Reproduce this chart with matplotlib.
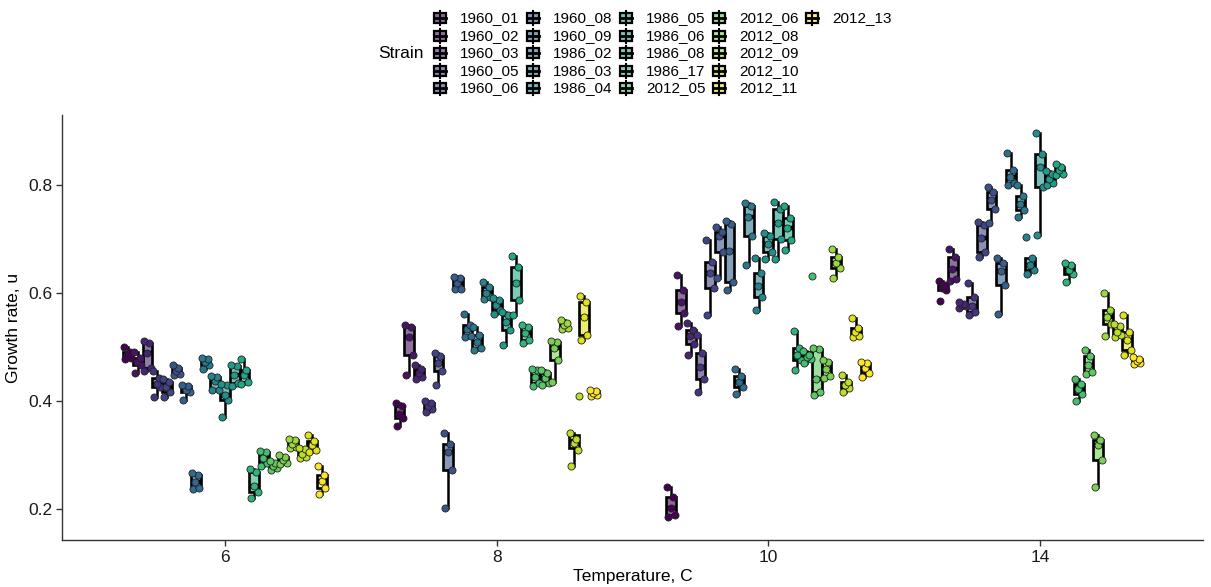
import numpy as np
import matplotlib.pyplot as plt
from matplotlib.patches import Rectangle
from matplotlib.lines import Line2D
from matplotlib.colors import to_rgba

plt.rcParams['font.family'] = ['Liberation Sans', 'DejaVu Sans']

# temperatures (x categories) and strains (fill groups)
temps = ['6', '8', '10', '14']
strains = ['1960_01', '1960_02', '1960_03', '1960_05', '1960_06', '1960_08', '1960_09',
           '1986_02', '1986_03', '1986_04', '1986_05', '1986_06', '1986_08', '1986_17',
           '2012_05', '2012_06', '2012_08', '2012_09', '2012_10', '2012_11', '2012_13']

# growth rate replicates, one list per strain (same order as strains)
growth_6 = [
    [0.478, 0.480, 0.485, 0.491, 0.500],
    [0.452, 0.467, 0.473, 0.480, 0.490],
    [0.455, 0.462, 0.489, 0.508, 0.512],
    [0.408, 0.426, 0.432, 0.443, 0.455],
    [0.408, 0.417, 0.425, 0.436, 0.441],
    [0.448, 0.450, 0.455, 0.462, 0.467],
    [0.402, 0.416, 0.420, 0.428, 0.430],
    [0.237, 0.239, 0.250, 0.263, 0.266],
    [0.460, 0.467, 0.472, 0.478, 0.479],
    [0.420, 0.421, 0.437, 0.445, 0.447],
    [0.371, 0.402, 0.411, 0.430, 0.432],
    [0.428, 0.433, 0.449, 0.464, 0.466],
    [0.432, 0.436, 0.448, 0.457, 0.477],
    [0.220, 0.232, 0.243, 0.269, 0.275],
    [0.280, 0.285, 0.295, 0.306, 0.308],
    [0.272, 0.276, 0.280, 0.285, 0.288],
    [0.283, 0.285, 0.290, 0.297, 0.300],
    [0.313, 0.315, 0.320, 0.328, 0.330],
    [0.295, 0.297, 0.302, 0.312, 0.313],
    [0.305, 0.309, 0.318, 0.325, 0.337],
    [0.228, 0.239, 0.252, 0.263, 0.280],
]
growth_8 = [
    [0.354, 0.368, 0.375, 0.391, 0.397],
    [0.448, 0.486, 0.519, 0.537, 0.540],
    [0.440, 0.445, 0.452, 0.460, 0.466],
    [0.380, 0.385, 0.390, 0.397, 0.400],
    [0.430, 0.455, 0.470, 0.483, 0.488],
    [0.202, 0.272, 0.305, 0.320, 0.341],
    [0.607, 0.608, 0.618, 0.628, 0.630],
    [0.519, 0.520, 0.533, 0.541, 0.562],
    [0.494, 0.498, 0.510, 0.522, 0.537],
    [0.588, 0.593, 0.600, 0.612, 0.620],
    [0.562, 0.569, 0.578, 0.587, 0.590],
    [0.504, 0.531, 0.546, 0.559, 0.565],
    [0.559, 0.587, 0.618, 0.649, 0.668],
    [0.507, 0.513, 0.525, 0.537, 0.540],
    [0.428, 0.433, 0.445, 0.457, 0.460],
    [0.430, 0.433, 0.442, 0.452, 0.457],
    [0.435, 0.476, 0.498, 0.510, 0.512],
    [0.533, 0.535, 0.540, 0.544, 0.550],
    [0.280, 0.309, 0.322, 0.330, 0.340, 0.409],
    [0.513, 0.522, 0.556, 0.584, 0.595],
    [0.410, 0.412, 0.415, 0.418, 0.420],
]
growth_10 = [
    [0.185, 0.188, 0.202, 0.222, 0.241],
    [0.539, 0.563, 0.584, 0.605, 0.633],
    [0.485, 0.505, 0.520, 0.532, 0.545],
    [0.417, 0.440, 0.463, 0.488, 0.522],
    [0.559, 0.610, 0.637, 0.658, 0.698],
    [0.627, 0.676, 0.705, 0.713, 0.722],
    [0.606, 0.620, 0.678, 0.727, 0.733],
    [0.413, 0.425, 0.435, 0.447, 0.460],
    [0.652, 0.705, 0.741, 0.762, 0.767],
    [0.569, 0.593, 0.613, 0.637, 0.665],
    [0.663, 0.676, 0.690, 0.705, 0.712],
    [0.663, 0.700, 0.730, 0.755, 0.768],
    [0.680, 0.698, 0.720, 0.738, 0.762],
    [0.457, 0.476, 0.485, 0.498, 0.529],
    [0.470, 0.477, 0.482, 0.486, 0.493, 0.632],
    [0.411, 0.416, 0.440, 0.497, 0.499],
    [0.443, 0.446, 0.460, 0.472, 0.476],
    [0.628, 0.646, 0.655, 0.667, 0.681],
    [0.417, 0.424, 0.430, 0.436, 0.448],
    [0.518, 0.521, 0.527, 0.535, 0.554],
    [0.445, 0.452, 0.462, 0.470, 0.473],
]
growth_14 = [
    [0.585, 0.605, 0.610, 0.615, 0.622],
    [0.622, 0.625, 0.645, 0.666, 0.681],
    [0.572, 0.576, 0.578, 0.580, 0.583],
    [0.560, 0.565, 0.575, 0.592, 0.618],
    [0.667, 0.675, 0.702, 0.725, 0.731],
    [0.730, 0.755, 0.772, 0.787, 0.797],
    [0.561, 0.614, 0.640, 0.655, 0.665],
    [0.800, 0.804, 0.815, 0.828, 0.860],
    [0.740, 0.753, 0.765, 0.779, 0.800],
    [0.635, 0.643, 0.652, 0.664, 0.704],
    [0.707, 0.797, 0.834, 0.858, 0.897],
    [0.800, 0.804, 0.812, 0.820, 0.826],
    [0.818, 0.820, 0.827, 0.834, 0.838],
    [0.621, 0.636, 0.643, 0.651, 0.655],
    [0.400, 0.413, 0.422, 0.431, 0.441],
    [0.450, 0.453, 0.467, 0.484, 0.494],
    [0.240, 0.290, 0.318, 0.327, 0.337],
    [0.520, 0.543, 0.555, 0.568, 0.600],
    [0.518, 0.522, 0.528, 0.538, 0.542],
    [0.485, 0.494, 0.513, 0.527, 0.560],
    [0.468, 0.470, 0.474, 0.478, 0.482],
]
growth_by_temp = [growth_6, growth_8, growth_10, growth_14]

W, H = 1211, 587
colors = plt.cm.viridis(np.linspace(0, 1, len(strains)))
box_alpha = 0.6

fig = plt.figure(figsize=(W / 100, H / 100), dpi=100)
ax = fig.add_axes([62 / W, 47 / H, 1141 / W, 425 / H])

n = len(strains)
dodge = 0.75
slot = dodge / n
jit = [-0.3, 0.35, -0.05, 0.2, -0.4, 0.45]  # fixed horizontal jitter pattern

for t, groups in enumerate(growth_by_temp):
    for i, vals in enumerate(groups):
        pos = t + 1 - dodge / 2 + slot * (i + 0.5)
        fill = to_rgba(colors[i], box_alpha)
        ax.boxplot([vals], positions=[pos], widths=slot, patch_artist=True,
                   showfliers=False, showcaps=False, manage_ticks=False,
                   boxprops=dict(facecolor=fill, edgecolor='black', linewidth=1.9),
                   medianprops=dict(color='black', linewidth=3.2),
                   whiskerprops=dict(color='black', linewidth=1.8))
        xs = [pos + slot * jit[k % len(jit)] for k in range(len(vals))]
        ax.scatter(xs, vals, s=26, color=colors[i], edgecolor='#222222',
                   linewidth=0.6, zorder=4)

ax.set_xlim(0.4, 4.6)
ax.set_ylim(0.1426, 0.9296)
ax.set_xticks([1, 2, 3, 4])
ax.set_xticklabels(temps)
ax.set_yticks([0.2, 0.4, 0.6, 0.8])
ax.set_yticklabels(['0.2', '0.4', '0.6', '0.8'])
for s in ['top', 'right']:
    ax.spines[s].set_visible(False)
for s in ['left', 'bottom']:
    ax.spines[s].set_color('#333333')
    ax.spines[s].set_linewidth(1.0)
ax.tick_params(length=4, width=1, color='#333333', labelsize=12.5,
               labelcolor='#1a1a1a', pad=3)
ax.set_xlabel('Temperature, C', fontsize=12.5, labelpad=3)
ax.set_ylabel('Growth rate, u', fontsize=12.5, labelpad=5)

# legend drawn at top, 5 rows, column-major
def fx(px):
    return px / W

def fy(py):
    return 1 - py / H

fig.text(fx(378), fy(53), 'Strain', fontsize=12.5, va='center', ha='left')
for i, name in enumerate(strains):
    col, row = divmod(i, 5)
    cx = 440 + 93 * col
    cy = 18.3 + 17.5 * row
    fig.add_artist(Line2D([fx(cx), fx(cx)], [fy(cy - 7), fy(cy + 7)],
                          transform=fig.transFigure, color='black', lw=1.5))
    fig.add_artist(Rectangle((fx(cx - 6), fy(cy + 5)), 12 / W, 10 / H,
                             transform=fig.transFigure,
                             facecolor=to_rgba(colors[i], box_alpha),
                             edgecolor='black', lw=1.6))
    fig.add_artist(Line2D([fx(cx - 6), fx(cx + 6)], [fy(cy), fy(cy)],
                          transform=fig.transFigure, color='black', lw=2.0))
    fig.text(fx(cx + 20), fy(cy), name, fontsize=11, va='center', ha='left')

fig.savefig('out.png', dpi=100)
